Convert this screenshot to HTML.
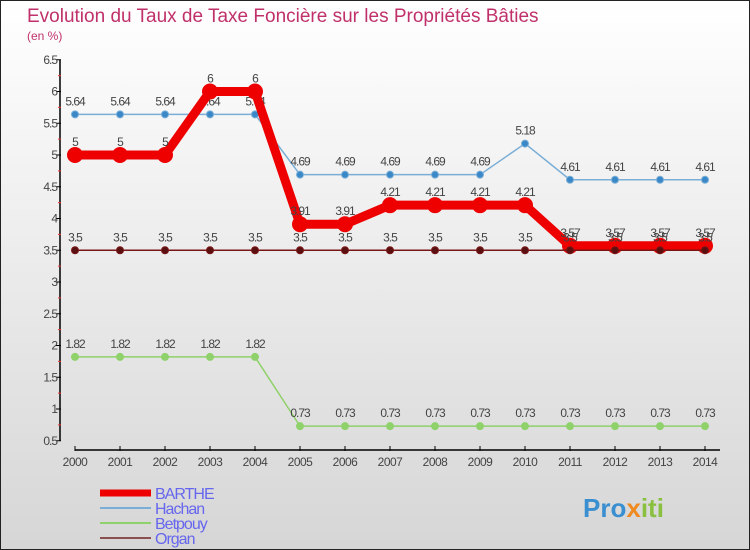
<!DOCTYPE html>
<html><head><meta charset="utf-8"><style>
body{margin:0}
#c{width:750px;height:550px;position:relative;overflow:hidden;font-family:"Liberation Sans",sans-serif}
svg text{font-family:"Liberation Sans",sans-serif}
</style></head><body>
<div id="c">
<svg id="s" width="750" height="550">
<defs><linearGradient id="bg" x1="0" y1="0" x2="0" y2="1"><stop offset="0" stop-color="#ffffff"/><stop offset="1" stop-color="#d6d6d6"/></linearGradient></defs>
<rect x="0.5" y="0.5" width="749" height="549" fill="url(#bg)" stroke="#222"/>
<text x="27" y="22" font-size="19" fill="#c0306a">Evolution du Taux de Taxe Foncière sur les Propriétés Bâties</text>
<text x="27" y="40" font-size="12" fill="#c0306a">(en %)</text>
<g id="axes"></g><g id="series"></g><g id="legend"></g>
<text x="583" y="517" font-size="26" font-weight="bold" fill="#3a8fd0">Pro<tspan fill="#f08a20">x</tspan><tspan fill="#8ac040">iti</tspan></text>
</svg></div>
<script>
const years=[2000,2001,2002,2003,2004,2005,2006,2007,2008,2009,2010,2011,2012,2013,2014];
const barthe=[5,5,5,6,6,3.91,3.91,4.21,4.21,4.21,4.21,3.57,3.57,3.57,3.57];
const hachan=[5.64,5.64,5.64,5.64,5.64,4.69,4.69,4.69,4.69,4.69,5.18,4.61,4.61,4.61,4.61];
const betpouy=[1.82,1.82,1.82,1.82,1.82,0.73,0.73,0.73,0.73,0.73,0.73,0.73,0.73,0.73,0.73];
const organ=[3.5,3.5,3.5,3.5,3.5,3.5,3.5,3.5,3.5,3.5,3.5,3.5,3.5,3.5,3.5];
const yTicks=[0.5,1,1.5,2,2.5,3,3.5,4,4.5,5,5.5,6,6.5];
const NS="http://www.w3.org/2000/svg";
const X=i=>75+i*45, Y=v=>155-(v-5)*63.5;
function mk(t,a,p){const e=document.createElementNS(NS,t);for(const k in a)e.setAttribute(k,a[k]);p.appendChild(e);return e;}
const ax=document.getElementById('axes');
let e=mk('line',{x1:60,y1:Y(6.5),x2:60,y2:Y(0.5),stroke:'#000','stroke-width':1.5},ax);


e=mk('line',{x1:75,y1:450,x2:720,y2:450,stroke:'#000','stroke-width':1.5},ax);


yTicks.forEach(v=>{
 e=mk('line',{x1:56,y1:Y(v),x2:61,y2:Y(v),stroke:'#000'},ax);
 
 
 if(v<6.5){e=mk('line',{x1:58,y1:Y(v+0.25),x2:61,y2:Y(v+0.25),stroke:'#e33'},ax);
 
 }
 e=mk('text',{x:57,y:Y(v)+4,'font-size':12,fill:'#444','text-anchor':'end','letter-spacing':'-1'},ax);
 e.textContent=v;
 
 
});
years.forEach((yr,i)=>{
 e=mk('line',{x1:X(i),y1:446,x2:X(i),y2:451,stroke:'#000'},ax);
 
 
 e=mk('text',{x:X(i),y:466,'font-size':12,fill:'#444','text-anchor':'middle','letter-spacing':'-0.5'},ax);
 e.textContent=yr;
 
 
});
const sg=document.getElementById('series');
function series(d,col,w,r,name,dot){
 const g=mk('g',{},sg);
 
 
 const p=mk('polyline',{points:d.map((v,i)=>X(i)+','+Y(v)).join(' '),fill:'none',stroke:col,'stroke-width':w,'stroke-linejoin':'round'},g);
 
 
 d.forEach((v,i)=>{
  const c=mk('circle',{cx:X(i),cy:Y(v),r:r,fill:dot,stroke:col,'stroke-width':1},g);
  
  
  const t=mk('text',{x:X(i),y:Y(v)-9,'font-size':12,fill:'#444','text-anchor':'middle','letter-spacing':'-1'},g);
  t.textContent=v;
  
  
 });
}
series(betpouy,'#8fd16a',1.5,3.5,'betpouy','#8fd16a');
series(hachan,'#7aaed6',1.5,3.5,'hachan','#3a88c8');
series(barthe,'#ee0000',9,7.5,'barthe','#ee0000');
series(organ,'#7a1515',1.5,3.5,'organ','#5a1010');
const lg=document.getElementById('legend');
[['BARTHE','#ee0000',7,493],['Hachan','#7aaed6',2,508],['Betpouy','#8fd16a',2,523],['Organ','#8a5050',2,538]].forEach(([n,c,w,y])=>{
 e=mk('line',{x1:100,y1:y,x2:151,y2:y,stroke:c,'stroke-width':w},lg);
 
 
 e=mk('text',{x:155,y:y+6,'font-size':16,fill:'#6666ee','letter-spacing':'-1'},lg);
 e.textContent=n;
 
 
});
</script>
</body></html>
